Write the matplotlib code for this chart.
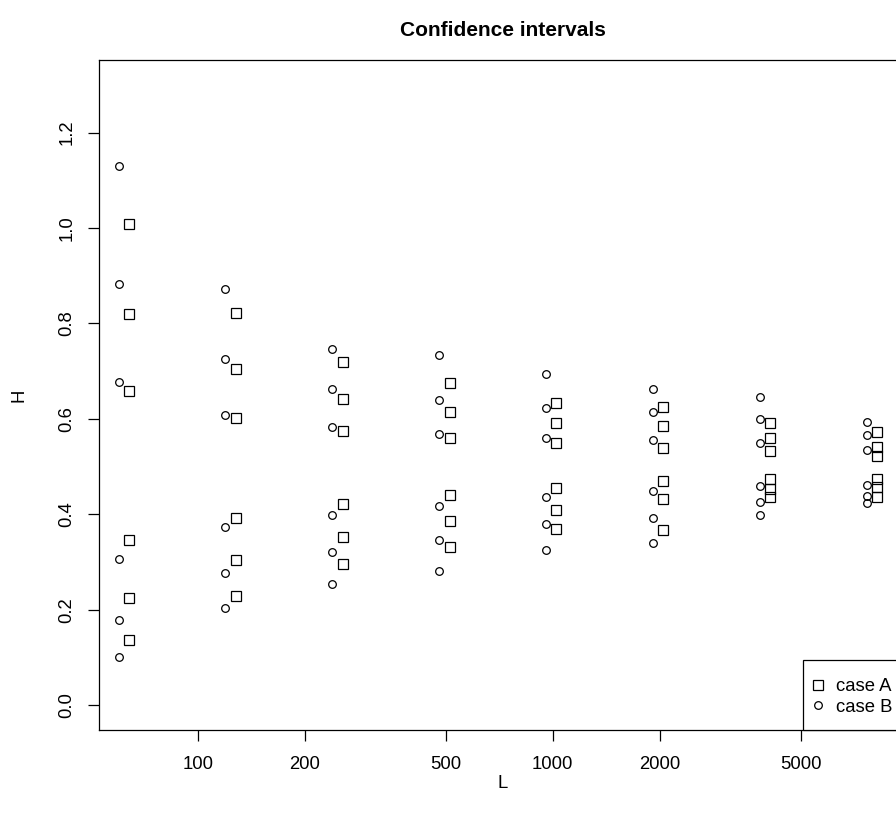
import matplotlib
matplotlib.use("Agg")
import matplotlib.pyplot as plt
import matplotlib.patches as mpatches
import numpy as np

plt.rcParams['font.family'] = ['Liberation Sans', 'DejaVu Sans']

# ---- data ----
L_values = [64, 128, 256, 512, 1024, 2048, 4096, 8192]

caseA = [  # squares
    [1.009, 0.820, 0.659, 0.346, 0.224, 0.136],
    [0.821, 0.704, 0.601, 0.392, 0.305, 0.228],
    [0.719, 0.641, 0.575, 0.421, 0.352, 0.295],
    [0.676, 0.614, 0.559, 0.441, 0.385, 0.332],
    [0.634, 0.592, 0.549, 0.456, 0.409, 0.370],
    [0.624, 0.584, 0.538, 0.469, 0.433, 0.367],
    [0.592, 0.559, 0.533, 0.473, 0.453, 0.436],
    [0.572, 0.542, 0.523, 0.473, 0.457, 0.437],
]
caseB = [  # circles
    [1.129, 0.883, 0.678, 0.306, 0.178, 0.101],
    [0.873, 0.725, 0.609, 0.374, 0.278, 0.204],
    [0.746, 0.662, 0.583, 0.398, 0.322, 0.254],
    [0.734, 0.640, 0.568, 0.418, 0.347, 0.282],
    [0.694, 0.622, 0.559, 0.437, 0.379, 0.325],
    [0.662, 0.614, 0.555, 0.449, 0.393, 0.340],
    [0.645, 0.600, 0.549, 0.460, 0.426, 0.399],
    [0.593, 0.567, 0.534, 0.462, 0.439, 0.424],
]
x_ticks = [100, 200, 500, 1000, 2000, 5000]
y_ticks = [0.0, 0.2, 0.4, 0.6, 0.8, 1.0, 1.2]
y_ticklabels = ["0.0", "0.2", "0.4", "0.6", "0.8", "1.0", "1.2"]
legend_labels = ["case A", "case B"]
dodge_B = 0.935  # circles drawn slightly left of their L
x_range = (64, 8192)
y_range = (0.0, 1.3)

W, H = 896, 821
fig = plt.figure(figsize=(W / 100, H / 100), dpi=100)
left, right, top, bottom = 99, 907, 60, 730
ax = fig.add_axes([left / W, (H - bottom) / H, (right - left) / W, (bottom - top) / H])

xa = np.repeat(L_values, 6)
ya = np.array(caseA).ravel()
xb = np.repeat(np.array(L_values) * dodge_B, 6)
yb = np.array(caseB).ravel()

ax.plot(xa, ya, linestyle='none', marker='s', ms=7, mfc='none', mec='black', mew=0.9,
        label=legend_labels[0])
ax.plot(xb, yb, linestyle='none', marker='o', ms=5.5, mfc='none', mec='black', mew=0.9,
        label=legend_labels[1])

# R-style 4% axis extension
lx0, lx1 = np.log10(x_range)
dx = 0.04 * (lx1 - lx0)
ax.set_xscale('log')
ax.set_xlim(10 ** (lx0 - dx), 10 ** (lx1 + dx))
dy = 0.04 * (y_range[1] - y_range[0])
ax.set_ylim(y_range[0] - dy, y_range[1] + dy)

ax.xaxis.set_minor_locator(matplotlib.ticker.NullLocator())
ax.set_xticks(x_ticks)
ax.set_xticklabels([str(v) for v in x_ticks])
ax.set_yticks(y_ticks)
ax.set_yticklabels(y_ticklabels, rotation=90, va='center')

for s in ax.spines.values():
    s.set_linewidth(0.9)
ax.tick_params(direction='out', length=8, width=0.9, labelsize=13.3, colors='black')
ax.tick_params(axis='x', pad=11)
ax.tick_params(axis='y', pad=9)

fig.text(503 / W, 1 - 30 / H, "Confidence intervals", ha='center', va='center',
         fontsize=15, fontweight='bold')
fig.text(503 / W, 1 - 783 / H, "L", ha='center', va='center', fontsize=13.3)
fig.text(19 / W, 1 - 395 / H, "H", ha='center', va='center', fontsize=13.3, rotation=90)

# legend frame (R-style, touching bottom-right of plot box)
leg_left, leg_top = 802.7, 660
frame = mpatches.Rectangle((leg_left / W, (H - bottom) / H), (right - leg_left) / W,
                           (bottom - leg_top) / H, transform=fig.transFigure,
                           fill=True, facecolor='white', edgecolor='black', lw=0.9,
                           zorder=5)
fig.add_artist(frame)
leg = fig.legend(*ax.get_legend_handles_labels(), loc='center left',
                 bbox_to_anchor=(813.5 / W, 1 - 697 / H),
                 bbox_transform=fig.transFigure, borderaxespad=0, frameon=False,
                 fontsize=13.3, borderpad=0, handlelength=0.5, handletextpad=0.7,
                 labelspacing=0.2)
leg.set_zorder(6)

fig.savefig("out.png", dpi=100)
